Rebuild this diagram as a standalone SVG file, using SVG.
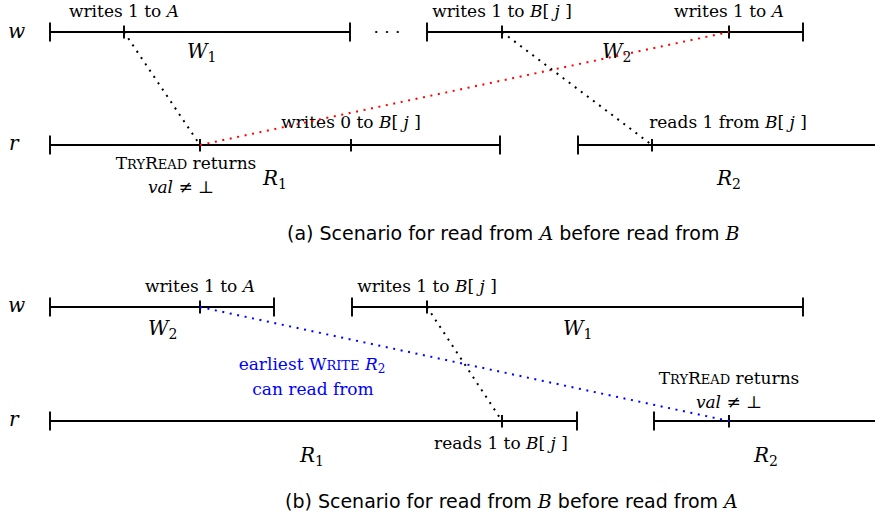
<svg xmlns="http://www.w3.org/2000/svg" width="875" height="524" viewBox="0 0 875 524">
<style>
.ln{stroke:#000;stroke-width:1.9;fill:none}
.dot{stroke-width:2;stroke-dasharray:2 5.6;fill:none}
.t{font-family:"DejaVu Serif",serif;font-size:17px;fill:#000}
.sc{font-size:13px}
.i{font-style:italic}
.m{font-family:"DejaVu Serif",serif;font-style:italic;font-size:20px;fill:#000}
.sub{font-style:normal;font-size:14px}
.cap{font-family:"DejaVu Sans",sans-serif;font-size:19px;fill:#000}
.mi{font-family:"DejaVu Serif",serif;font-style:italic}
.blue{fill:#0000ff}
</style>

<!-- ===== (a) ===== -->
<g id="proc-w-a"><text class="m" x="8" y="38">w</text></g>
<g id="proc-r-a"><text class="m" x="9" y="150">r</text></g>

<g id="W1-a">
<path class="ln" d="M50 32H350M50 22.5V41.5M350 22.5V41.5M124 25.5V38.5"/>
<text class="t" x="124" y="17" text-anchor="middle">writes 1 to <tspan class="i">A</tspan></text>
<text class="m" x="187" y="58">W<tspan class="sub" dy="4">1</tspan></text>
</g>
<g id="dots-a"><text class="t" x="387" y="38" text-anchor="middle">· · ·</text></g>
<g id="W2-a">
<path class="ln" d="M427 32H803M427 22.5V41.5M803 22.5V41.5M502 25.5V38.5M729 25.5V38.5"/>
<text class="t" x="502" y="17" text-anchor="middle">writes 1 to <tspan class="i">B</tspan>[<tspan class="i"> j</tspan> ]</text>
<text class="t" x="729" y="17" text-anchor="middle">writes 1 to <tspan class="i">A</tspan></text>
<text class="m" x="602" y="58">W<tspan class="sub" dy="4">2</tspan></text>
</g>
<g id="R1-a">
<path class="ln" d="M50 145H500M50 135.5V154.5M500 135.5V154.5M200 139V151.5M351 139V151.5"/>
<text class="t" x="351" y="128" text-anchor="middle">writes 0 to <tspan class="i">B</tspan>[<tspan class="i"> j</tspan> ]</text>
<text class="t" x="186" y="169" text-anchor="middle">T<tspan class="sc">RY</tspan>R<tspan class="sc">EAD</tspan> returns</text>
<text class="t" x="181" y="193" text-anchor="middle"><tspan class="i">val</tspan> ≠ ⊥</text>
<text class="m" x="263" y="185">R<tspan class="sub" dy="4">1</tspan></text>
</g>
<g id="R2-a">
<path class="ln" d="M578 145H875M578 135.5V154.5M652 139V151.5"/>
<text class="t" x="728" y="128" text-anchor="middle">reads 1 from <tspan class="i">B</tspan>[<tspan class="i"> j</tspan> ]</text>
<text class="m" x="717" y="185">R<tspan class="sub" dy="4">2</tspan></text>
</g>

<!-- ===== (b) ===== -->
<g id="proc-w-b"><text class="m" x="8" y="312">w</text></g>
<g id="proc-r-b"><text class="m" x="9" y="426">r</text></g>

<g id="W2-b">
<path class="ln" d="M50 307H274M50 297.5V316.5M274 297.5V316.5M200 300.5V313.5"/>
<text class="t" x="200" y="292" text-anchor="middle">writes 1 to <tspan class="i">A</tspan></text>
<text class="m" x="148" y="335">W<tspan class="sub" dy="4">2</tspan></text>
</g>
<g id="W1-b">
<path class="ln" d="M352 307H803M352 297.5V316.5M803 297.5V316.5M427 300.5V313.5"/>
<text class="t" x="427" y="292" text-anchor="middle">writes 1 to <tspan class="i">B</tspan>[<tspan class="i"> j</tspan> ]</text>
<text class="m" x="563" y="335">W<tspan class="sub" dy="4">1</tspan></text>
</g>
<g id="R1-b">
<path class="ln" d="M50 421H577M50 411.5V430.5M577 411.5V430.5M502 415V427.5"/>
<text class="t" x="501" y="449" text-anchor="middle">reads 1 to <tspan class="i">B</tspan>[<tspan class="i"> j</tspan> ]</text>
<text class="m" x="300" y="462">R<tspan class="sub" dy="4">1</tspan></text>
</g>
<g id="R2-b">
<path class="ln" d="M654 421H875M654 411.5V430.5M729 415V427.5"/>
<text class="t" x="729" y="384" text-anchor="middle">T<tspan class="sc">RY</tspan>R<tspan class="sc">EAD</tspan> returns</text>
<text class="t" x="729" y="408" text-anchor="middle"><tspan class="i">val</tspan> ≠ ⊥</text>
<text class="m" x="754" y="462">R<tspan class="sub" dy="4">2</tspan></text>
</g>
<g id="note-b">
<text class="t blue" x="312" y="370" text-anchor="middle">earliest W<tspan class="sc">RITE</tspan> <tspan class="i">R</tspan><tspan font-size="12" dy="3">2</tspan></text>
<text class="t blue" x="313" y="395" text-anchor="middle">can read from</text>
</g>

<!-- connectors -->
<g id="connectors">
<line class="dot" x1="124" y1="32" x2="200" y2="145" stroke="#000"/>
<line class="dot" x1="200" y1="145" x2="729" y2="32" stroke="#ff0000"/>
<line class="dot" x1="502" y1="32" x2="652" y2="145" stroke="#000"/>
<line class="dot" x1="200" y1="307" x2="729" y2="421" stroke="#0000ff"/>
<line class="dot" x1="427" y1="307" x2="502" y2="421" stroke="#000"/>
</g>

<!-- captions -->
<g id="caption-a"><text class="cap" x="287" y="240">(a) Scenario for read from <tspan class="mi">A</tspan> before read from <tspan class="mi">B</tspan></text></g>
<g id="caption-b"><text class="cap" x="285" y="508">(b) Scenario for read from <tspan class="mi">B</tspan> before read from <tspan class="mi">A</tspan></text></g>
</svg>
